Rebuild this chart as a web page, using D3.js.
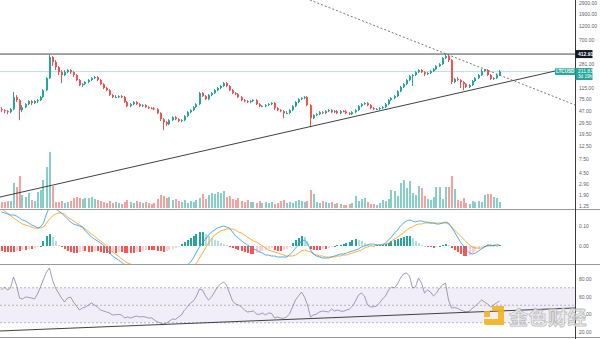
<!DOCTYPE html>
<html>
<head>
<meta charset="utf-8">
<script src="https://cdn.jsdelivr.net/npm/d3@7"></script>
<style>
  html, body { margin: 0; padding: 0; background: #ffffff; }
  svg { display: block; font-family: "Liberation Sans", Arial, sans-serif; }
</style>
</head>
<body>
<svg id="chart" width="600" height="339"></svg>
<script>
// ---- OHLC candles (LTCUSD) ----
const opens = [50.4,48.5,46.7,44.9,50.4,79.8,71.1,48.5,54.4,61.0,
68.5,63.4,68.5,71.1,79.8,104,165,368,304,251,
207,185,207,224,207,185,153,126,131,142,
153,165,171,153,131,113,104,86.1,79.8,80.5,
82.9,79.8,65.9,56.5,61.0,65.9,61.0,56.5,58.7,54.4,
52.4,52.0,50.4,43.2,34.4,30.7,28.4,33.1,37.1,34.4,
31.9,33.1,38.6,44.9,48.5,54.4,61.0,93.0,82.9,73.9,
86.1,93.0,104,113,122,136,122,104,93.0,89.5,
79.8,71.1,68.5,65.9,68.5,71.1,61.0,56.5,57.0,58.7,
61.0,63.4,52.4,48.5,46.7,43.2,43.5,48.5,56.5,65.9,
73.9,76.8,79.8,58.7,35.7,40.1,41.6,44.9,43.2,46.7,
48.5,44.9,46.7,43.2,46.7,46.2,43.2,41.6,44.9,48.5,
56.5,61.0,63.4,58.7,52.4,50.4,50.9,52.4,54.4,61.0,
71.1,76.8,82.9,100,117,131,153,178,185,207,
224,207,192,200,215,232,261,281,354,382,
328,142,159,153,142,131,117,126,147,165,
185,215,224,185,159,165,185];

const highs = [54.4,50.4,48.5,52.4,96.6,86.1,73.9,58.7,63.4,71.1,
71.1,71.1,73.9,82.9,108,171,405,382,328,261,
224,224,232,232,215,192,159,136,147,159,
171,178,178,159,136,117,108,89.5,86.1,86.1,
86.1,82.9,68.5,63.4,68.5,68.5,63.4,61.0,61.0,56.5,
54.4,54.4,52.4,44.9,35.7,31.9,34.4,38.6,38.6,35.7,
34.4,40.1,46.7,50.4,56.5,63.4,96.6,96.6,86.1,89.5,
96.6,108,117,126,142,142,126,108,96.6,93.0,
82.9,73.9,71.1,71.1,73.9,73.9,63.4,58.7,61.0,63.4,
65.9,65.9,54.4,50.4,48.5,46.7,50.4,58.7,68.5,76.8,
79.8,82.9,82.9,61.0,41.6,43.2,46.7,46.7,48.5,50.4,
50.4,48.5,48.5,48.5,48.5,48.5,44.9,46.7,50.4,58.7,
63.4,65.9,65.9,61.0,54.4,52.4,54.4,56.5,63.4,73.9,
79.8,86.1,104,122,136,159,185,192,215,232,
232,215,207,224,241,271,292,368,412.91,397,
341,165,171,159,147,136,131,153,171,192,
232,232,232,192,171,192,224];

const lows = [44.9,43.2,41.6,43.2,48.5,65.9,33.1,44.9,52.4,58.7,
58.7,61.0,63.4,68.5,76.8,100,159,261,224,185,
136,178,200,192,171,147,122,117,126,136,
147,159,147,126,108,100,82.9,76.8,76.8,76.8,
76.8,63.4,54.4,54.4,58.7,58.7,54.4,54.4,52.4,50.4,
50.4,48.5,41.6,31.9,22.6,26.3,27.3,31.9,33.1,30.7,
30.7,31.9,37.1,43.2,46.7,52.4,58.7,79.8,71.1,71.1,
82.9,89.5,100,108,117,117,100,89.5,86.1,76.8,
68.5,65.9,63.4,63.4,65.9,58.7,54.4,54.4,54.4,56.5,
58.7,48.5,46.7,44.9,35.7,41.6,41.6,46.7,54.4,63.4,
71.1,73.9,56.5,25.3,34.4,38.6,40.1,41.6,41.6,44.9,
43.2,43.2,41.6,41.6,44.9,41.6,40.1,40.1,43.2,46.7,
54.4,58.7,56.5,50.4,48.5,48.5,48.5,50.4,52.4,58.7,
68.5,73.9,79.8,96.6,113,126,147,122,178,200,
200,178,185,192,207,224,251,271,341,304,
131,136,147,113,104,113,113,122,142,159,
178,207,178,153,153,159,178];

const closes = [48.5,46.7,44.9,50.4,79.8,71.1,48.5,54.4,61.0,68.5,
63.4,68.5,71.1,79.8,104,165,368,304,251,207,
185,207,224,207,185,153,126,131,142,153,
165,171,153,131,113,104,86.1,79.8,80.5,82.9,
79.8,65.9,56.5,61.0,65.9,61.0,56.5,58.7,54.4,52.4,
52.0,50.4,43.2,34.4,30.7,28.4,33.1,37.1,34.4,31.9,
33.1,38.6,44.9,48.5,54.4,61.0,93.0,82.9,73.9,86.1,
93.0,104,113,122,136,122,104,93.0,89.5,79.8,
71.1,68.5,65.9,68.5,71.1,61.0,56.5,57.0,58.7,61.0,
63.4,52.4,48.5,46.7,43.2,43.5,48.5,56.5,65.9,73.9,
76.8,79.8,58.7,35.7,40.1,41.6,44.9,43.2,46.7,48.5,
44.9,46.7,43.2,46.7,46.2,43.2,41.6,44.9,48.5,56.5,
61.0,63.4,58.7,52.4,50.4,50.9,52.4,54.4,61.0,71.1,
76.8,82.9,100,117,131,153,178,185,207,224,
207,192,200,215,232,261,281,354,382,328,
142,159,153,142,131,117,126,147,165,185,
215,224,185,159,165,185,211.83];

// ---- traded volume per candle (millions) ----
const volumes = [6,6,7,7,25,21,32,13,11,15,
8,7,16,18,28,41,56,22,6,6,
7,5,6,7,10,11,10,9,10,10,
11,9,8,7,6,5,7,5,6,5,
4,6,8,6,5,7,6,5,6,5,
4,5,9,13,12,10,11,8,9,7,
6,8,5,7,6,8,10,14,9,13,
15,14,16,15,17,11,12,9,8,10,
7,6,8,6,6,5,7,5,6,5,
6,4,5,7,8,5,6,5,7,8,
7,6,7,18,14,6,5,7,6,5,
6,4,5,4,3,3,4,5,12,7,
9,10,6,4,4,3,5,8,7,9,
18,17,12,25,28,20,27,15,13,22,
20,12,9,8,11,21,21,9,21,21,
32,19,8,7,10,5,4,7,6,7,
6,13,14,14,11,10,6];

// ---- MACD (12, 26, 9) ----
const macdLine = [0.170,0.165,0.160,0.155,0.155,0.150,0.140,0.130,0.125,0.115,
0.105,0.100,0.090,0.095,0.115,0.160,0.195,0.195,0.185,0.175,
0.165,0.150,0.135,0.120,0.110,0.105,0.100,0.095,0.075,0.060,
0.045,0.035,0.025,0.015,0.005,-0.015,-0.035,-0.050,-0.060,-0.070,
-0.080,-0.095,-0.110,-0.120,-0.130,-0.140,-0.145,-0.150,-0.155,-0.155,
-0.160,-0.160,-0.165,-0.170,-0.170,-0.170,-0.160,-0.150,-0.140,-0.130,
-0.120,-0.110,-0.095,-0.080,-0.060,-0.030,-0.005,0.015,0.035,0.055,
0.070,0.080,0.090,0.095,0.100,0.095,0.090,0.070,0.050,0.040,
0.025,0.015,0.005,-0.005,-0.015,-0.020,-0.030,-0.035,-0.045,-0.045,
-0.050,-0.050,-0.055,-0.055,-0.055,-0.055,-0.045,-0.030,-0.010,0.005,
0.025,0.030,0.015,-0.020,-0.040,-0.050,-0.055,-0.060,-0.060,-0.060,
-0.055,-0.050,-0.045,-0.040,-0.040,-0.035,-0.030,-0.025,-0.020,-0.015,
-0.005,0.000,0.005,0.010,0.010,0.005,0.005,0.005,0.015,0.030,
0.045,0.065,0.080,0.100,0.115,0.125,0.130,0.125,0.120,0.125,
0.125,0.120,0.120,0.115,0.115,0.110,0.110,0.115,0.120,0.115,
0.095,0.070,0.045,0.020,0.000,-0.020,-0.035,-0.040,-0.035,-0.025,
-0.015,-0.005,0.005,0.005,0.000,0.005,0.005];

const signalLine = [0.190,0.175,0.165,0.150,0.140,0.130,0.120,0.110,0.105,0.100,
0.095,0.090,0.090,0.090,0.095,0.115,0.135,0.150,0.160,0.165,
0.165,0.160,0.145,0.135,0.125,0.115,0.105,0.095,0.085,0.070,
0.060,0.050,0.035,0.025,0.015,0.000,-0.015,-0.030,-0.040,-0.050,
-0.065,-0.075,-0.085,-0.090,-0.100,-0.105,-0.110,-0.115,-0.120,-0.125,
-0.130,-0.130,-0.135,-0.140,-0.145,-0.145,-0.145,-0.145,-0.140,-0.140,
-0.135,-0.130,-0.120,-0.110,-0.100,-0.085,-0.060,-0.035,-0.010,0.015,
0.035,0.055,0.065,0.075,0.080,0.085,0.085,0.085,0.080,0.070,
0.065,0.055,0.045,0.035,0.025,0.020,0.010,0.000,-0.010,-0.020,
-0.025,-0.030,-0.035,-0.040,-0.045,-0.050,-0.050,-0.050,-0.045,-0.035,
-0.025,-0.020,-0.025,-0.030,-0.040,-0.045,-0.050,-0.050,-0.055,-0.055,
-0.055,-0.055,-0.050,-0.050,-0.045,-0.045,-0.040,-0.035,-0.030,-0.025,
-0.020,-0.010,-0.005,0.000,0.000,0.005,0.005,0.010,0.010,0.015,
0.025,0.035,0.045,0.055,0.065,0.080,0.090,0.095,0.105,0.110,
0.110,0.115,0.115,0.115,0.115,0.115,0.115,0.115,0.115,0.110,
0.095,0.080,0.065,0.050,0.035,0.020,0.005,-0.005,-0.010,-0.010,
-0.010,-0.005,0.000,0.000,0.005,0.005,0.005];

const macdHist = [-0.025,-0.030,-0.030,-0.030,-0.030,-0.025,-0.025,-0.020,-0.020,-0.015,
-0.015,-0.010,-0.005,0.000,0.025,0.050,0.060,0.045,0.025,0.005,
-0.005,-0.015,-0.025,-0.030,-0.035,-0.035,-0.030,-0.025,-0.025,-0.030,
-0.030,-0.025,-0.025,-0.030,-0.035,-0.035,-0.040,-0.035,-0.035,-0.030,
-0.030,-0.035,-0.035,-0.035,-0.035,-0.030,-0.030,-0.025,-0.020,-0.020,
-0.020,-0.020,-0.025,-0.025,-0.030,-0.025,-0.020,-0.015,-0.010,-0.005,
0.010,0.020,0.030,0.040,0.050,0.060,0.070,0.070,0.060,0.050,
0.040,0.030,0.025,0.015,0.010,0.005,-0.005,-0.010,-0.015,-0.020,
-0.025,-0.030,-0.035,-0.040,-0.040,-0.035,-0.030,-0.025,-0.020,-0.015,
-0.010,-0.020,-0.025,-0.025,-0.020,-0.015,-0.005,0.015,0.030,0.040,
0.050,0.045,0.025,-0.015,-0.020,-0.020,-0.020,-0.015,-0.015,-0.010,
-0.005,0.000,0.005,0.005,0.010,0.015,0.020,0.030,0.035,0.030,
0.025,0.015,0.010,0.005,0.000,0.005,0.005,0.005,0.010,0.015,
0.025,0.030,0.035,0.040,0.045,0.050,0.050,0.040,0.025,0.015,
0.005,0.000,-0.005,-0.005,-0.010,-0.005,0.000,0.005,0.010,0.005,
-0.010,-0.020,-0.030,-0.040,-0.050,-0.050,-0.045,-0.035,-0.025,-0.015,
-0.005,0.000,0.005,0.005,0.005,0.000,0.005];

// ---- RSI (14) ----
const rsiLine = [67.4,70.9,67.4,69.7,82.3,73.1,58.3,57.1,59.4,59.0,
58.3,57.1,62.9,70.9,80.0,88.0,92.6,78.9,69.7,64.0,
58.3,53.7,58.3,59.4,53.7,49.1,44.6,46.9,48.0,50.3,
52.6,50.3,48.0,44.6,43.4,42.3,41.1,38.9,39.2,39.6,
38.9,35.4,36.6,35.4,36.6,37.7,36.6,37.0,36.6,35.4,
35.6,33.1,30.9,29.7,28.6,29.7,32.0,34.3,33.8,36.6,
38.9,44.6,48.0,52.6,54.9,60.6,68.6,67.4,60.6,56.0,
59.4,65.1,70.9,74.3,76.6,73.1,64.0,54.9,51.4,50.3,
48.0,44.6,42.3,42.8,43.4,40.0,39.6,41.1,38.9,41.1,
40.7,35.4,36.6,35.4,35.0,36.6,40.0,48.0,56.0,60.6,
65.1,59.4,50.3,36.6,38.9,40.0,42.3,43.4,43.0,42.3,
45.7,43.4,44.6,43.4,43.1,44.6,45.7,49.1,54.9,61.7,
64.0,60.6,50.3,48.0,48.4,49.1,52.6,57.1,60.6,67.4,
70.9,69.7,74.3,81.1,85.7,86.9,83.4,69.7,70.9,81.1,
75.4,64.0,67.4,65.1,60.6,64.0,69.7,73.1,75.4,56.0,
46.9,47.3,46.5,44.6,43.4,42.3,43.4,46.9,49.1,52.6,
56.0,53.7,51.4,48.0,50.3,52.6,54.9];

// ---- axis ticks and reference levels ----
const priceTicks = [2900, 1900, 1200, 700, 281, 115, 75, 47, 29.5, 19.5, 12.5, 7.5, 4.5, 2.9, 1.9, 1.25];
const macdTicks = [0.10, 0.00];
const rsiTicks = [80, 60, 40, 20];
const rsiLevels = [70, 50, 30];
const symbol = "LTCUSD";
const lastPrice = 211.83;
const highPrice = 412.91;
const countdown = "3d 19h";

// ---- drawn trendlines (candle index, value) ----
const supportLine = [[-0.5, 1.76], [184.5, 216]];
const resistanceLine = [[102.8, 3252], [191.2, 59.1]];
const rsiSupportLine = [[-0.5, 20.6], [191.2, 46.9]];

// ---- layout ----
const W = 600, H = 339;
const axisX = 575.5;
const upColor = "#26a69a", downColor = "#ef5350";
const N = closes.length;

const svg = d3.select("#chart");
svg.append("rect").attr("width", W).attr("height", H).attr("fill", "#ffffff");

const defs = svg.append("defs");
function clip(id, y0, y1) {
  defs.append("clipPath").attr("id", id)
    .append("rect").attr("x", 0).attr("y", y0).attr("width", 575).attr("height", y1 - y0);
}
clip("clipPrice", 0, 209);
clip("clipMacd", 210, 264);
clip("clipRsi", 265, 337);

const x = d3.scaleLinear().domain([0, N - 1]).range([1.5, 499.5]);
const yPrice = d3.scaleLog().domain([1.25, 2900]).range([206, 3]);
const yVol = d3.scaleLinear().domain([0, d3.max(volumes)]).range([208, 152]);
const yMacd = d3.scaleLinear().domain([-0.09, 0.19]).range([264, 208]);
const yRsi = d3.scaleLinear().domain([20, 80]).range([331.5, 279]);

// ---- price pane ----
const gPrice = svg.append("g").attr("clip-path", "url(#clipPrice)");

gPrice.append("line")
  .attr("x1", 0).attr("x2", 575)
  .attr("y1", yPrice(highPrice)).attr("y2", yPrice(highPrice))
  .attr("stroke", "#4a4a4a").attr("stroke-width", 1);

gPrice.append("line")
  .attr("x1", 0).attr("x2", 575)
  .attr("y1", yPrice(lastPrice)).attr("y2", yPrice(lastPrice))
  .attr("stroke", "#a9dcd7").attr("stroke-width", 0.8);

const idx = d3.range(N);
const isUp = i => closes[i] >= opens[i];

gPrice.append("g").selectAll("rect").data(idx).join("rect")
  .attr("x", i => Math.round(x(i)) - 1)
  .attr("width", 2)
  .attr("y", i => yVol(volumes[i]))
  .attr("height", i => 208 - yVol(volumes[i]))
  .attr("fill", i => isUp(i) ? "rgba(38,166,154,0.55)" : "rgba(239,83,80,0.55)")
  .attr("shape-rendering", "crispEdges");

const gCandles = gPrice.append("g");
gCandles.selectAll("line").data(idx).join("line")
  .attr("x1", i => Math.round(x(i)) - 0.5).attr("x2", i => Math.round(x(i)) - 0.5)
  .attr("y1", i => yPrice(highs[i])).attr("y2", i => yPrice(lows[i]))
  .attr("stroke", i => isUp(i) ? upColor : downColor)
  .attr("stroke-width", 1);
gCandles.selectAll("rect").data(idx).join("rect")
  .attr("x", i => Math.round(x(i)) - 1)
  .attr("width", 2)
  .attr("y", i => yPrice(Math.max(opens[i], closes[i])))
  .attr("height", i => Math.max(1, Math.abs(yPrice(opens[i]) - yPrice(closes[i]))))
  .attr("fill", i => isUp(i) ? upColor : downColor);

gPrice.append("line")
  .attr("x1", x(supportLine[0][0])).attr("y1", yPrice(supportLine[0][1]))
  .attr("x2", x(supportLine[1][0])).attr("y2", yPrice(supportLine[1][1]))
  .attr("stroke", "#2b2b2b").attr("stroke-width", 0.9);

gPrice.append("line")
  .attr("x1", x(resistanceLine[0][0])).attr("y1", yPrice(resistanceLine[0][1]))
  .attr("x2", x(resistanceLine[1][0])).attr("y2", yPrice(resistanceLine[1][1]))
  .attr("stroke", "#555").attr("stroke-width", 0.8)
  .attr("stroke-dasharray", "2,2");

// ---- MACD pane ----
const gMacd = svg.append("g").attr("clip-path", "url(#clipMacd)");
gMacd.selectAll("rect").data(idx).join("rect")
  .attr("x", i => Math.round(x(i)) - 1)
  .attr("width", 2)
  .attr("y", i => Math.min(yMacd(0), yMacd(macdHist[i])))
  .attr("height", i => Math.max(0.5, Math.abs(yMacd(macdHist[i]) - yMacd(0))))
  .attr("fill", i => {
    const v = macdHist[i], p = i > 0 ? macdHist[i - 1] : v;
    if (v >= 0) return v >= p ? "#26a69a" : "#b2dfdb";
    return v <= p ? "#ff5252" : "#ffcdd2";
  })
  .attr("shape-rendering", "crispEdges");

const macdPath = d3.line().x((d, i) => x(i)).y(d => yMacd(d));
gMacd.append("path").attr("d", macdPath(signalLine))
  .attr("fill", "none").attr("stroke", "#ff9800").attr("stroke-width", 0.8);
gMacd.append("path").attr("d", macdPath(macdLine))
  .attr("fill", "none").attr("stroke", "#2196f3").attr("stroke-width", 0.8);

// ---- RSI pane ----
const gRsi = svg.append("g").attr("clip-path", "url(#clipRsi)");
gRsi.append("rect")
  .attr("x", 0).attr("width", 575)
  .attr("y", yRsi(rsiLevels[0]))
  .attr("height", yRsi(rsiLevels[2]) - yRsi(rsiLevels[0]))
  .attr("fill", "rgba(126,87,194,0.1)");
gRsi.selectAll("line.lvl").data(rsiLevels).join("line")
  .attr("class", "lvl")
  .attr("x1", 0).attr("x2", 575)
  .attr("y1", d => yRsi(d)).attr("y2", d => yRsi(d))
  .attr("stroke", "#9a9aa6").attr("stroke-width", 0.7)
  .attr("stroke-dasharray", "2,2");
gRsi.append("path")
  .attr("d", d3.line().x((d, i) => x(i)).y(d => yRsi(d))(rsiLine))
  .attr("fill", "none").attr("stroke", "#8a80a8").attr("stroke-width", 0.8);
gRsi.append("line")
  .attr("x1", x(rsiSupportLine[0][0])).attr("y1", yRsi(rsiSupportLine[0][1]))
  .attr("x2", x(rsiSupportLine[1][0])).attr("y2", yRsi(rsiSupportLine[1][1]))
  .attr("stroke", "#2b2b2b").attr("stroke-width", 0.9);

// ---- pane separators and price axis ----
[209.5, 264.5, 337.5].forEach(yy => {
  svg.append("line").attr("x1", 0).attr("x2", W).attr("y1", yy).attr("y2", yy)
    .attr("stroke", "#9a9a9a").attr("stroke-width", 1.2);
});
svg.append("line").attr("x1", axisX).attr("x2", axisX).attr("y1", 0).attr("y2", H)
  .attr("stroke", "#3a3a3a").attr("stroke-width", 1);

function axis(scale, ticks, fmt) {
  const g = svg.append("g").attr("transform", `translate(${axisX},0)`)
    .call(d3.axisRight(scale).tickValues(ticks).tickFormat(fmt).tickSize(0).tickPadding(3.5));
  g.select(".domain").remove();
  g.selectAll("text").attr("font-size", 5).attr("fill", "#5d606b")
    .attr("font-family", "Liberation Sans, Arial, sans-serif");
}
axis(yPrice, priceTicks, d3.format(".2f"));
axis(yMacd, macdTicks, d3.format(".2f"));
axis(yRsi, rsiTicks, d3.format(".2f"));

// price labels on the axis
const yHigh = yPrice(highPrice);
svg.append("rect").attr("x", axisX).attr("y", yHigh - 4).attr("width", 17).attr("height", 8)
  .attr("fill", "#131722");
svg.append("text").attr("x", axisX + 2.5).attr("y", yHigh + 1.8)
  .attr("font-size", 5).attr("font-weight", "bold").attr("fill", "#ffffff")
  .text(d3.format(".2f")(highPrice));

const yLast = yPrice(lastPrice);
svg.append("rect").attr("x", axisX).attr("y", yLast - 3.5).attr("width", 17).attr("height", 12)
  .attr("fill", upColor);
svg.append("text").attr("x", axisX + 2.5).attr("y", yLast + 1.8)
  .attr("font-size", 5).attr("fill", "#ffffff").text(d3.format(".2f")(lastPrice));
svg.append("text").attr("x", axisX + 2.5).attr("y", yLast + 6.6)
  .attr("font-size", 4.6).attr("fill", "#ffffff").text(countdown);

svg.append("rect").attr("x", 555).attr("y", yLast - 3.2).attr("width", 20.5).attr("height", 6.6)
  .attr("fill", upColor);
svg.append("text").attr("x", 565.2).attr("y", yLast + 1.6).attr("text-anchor", "middle")
  .attr("font-size", 4.6).attr("font-weight", "bold").attr("fill", "#ffffff").text(symbol);

// ---- watermark ----
const wm = svg.append("g").attr("opacity", 0.9);
const logo = wm.append("g").attr("transform", "translate(483,306)").attr("fill", "#f4b41a");
logo.append("path").attr("d", "M9,0 H21 V19 H3 Q1,19 1,17 V13 H15 V5 H9 Z");
logo.append("rect").attr("x", 1).attr("y", 5).attr("width", 6).attr("height", 6);
wm.append("text").attr("x", 509).attr("y", 325)
  .attr("font-family", "Noto Sans CJK SC, sans-serif").attr("font-size", 19)
  .attr("font-weight", "bold")
  .attr("fill", "#eeeeee").attr("stroke", "#b8b8b8").attr("stroke-width", 0.8)
  .attr("letter-spacing", 0.5)
  .text("金色财经");
</script>
</body>
</html>
